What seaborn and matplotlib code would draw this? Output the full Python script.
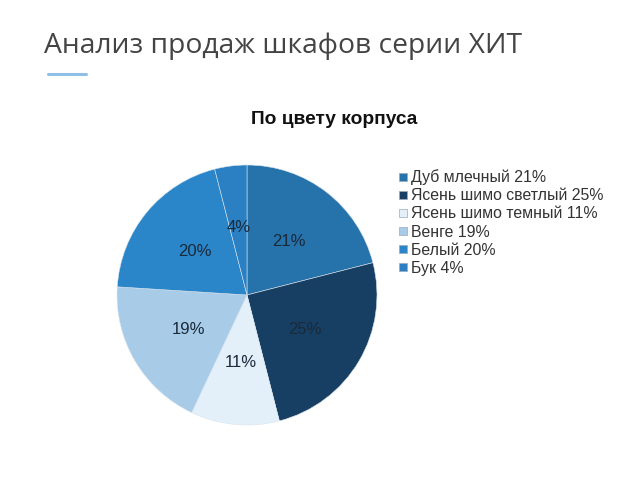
import matplotlib
matplotlib.use("Agg")
import matplotlib.pyplot as plt
from matplotlib.lines import Line2D
import seaborn as sns

categories = ["Дуб млечный", "Ясень шимо светлый", "Ясень шимо темный", "Венге", "Белый", "Бук"]
values = [21, 25, 11, 19, 20, 4]
colors = ["#2672aa", "#163f63", "#e4f0f9", "#a8cbe8", "#2b86c9", "#2a80c2"]
title = "Анализ продаж шкафов серии ХИТ"
chart_title = "По цвету корпуса"

sns.set_theme(style="white")
plt.rcParams["font.family"] = ["Liberation Sans", "DejaVu Sans"]

fig = plt.figure(figsize=(6.4, 4.8), dpi=100)
fig.patch.set_facecolor("white")

fig.text(44/640, 1 - 46/480, title, fontsize=20.3, color="#444444",
         family=["Open Sans", "DejaVu Sans"], va="center", ha="left")
fig.add_artist(Line2D([48/640, 86/640], [1 - 74/480, 1 - 74/480],
                      color="#8fbfe6", lw=2.2, transform=fig.transFigure))
fig.text(334/640, 1 - 120/480, chart_title, fontsize=13.8, fontweight="bold",
         color="#111111", ha="center", va="center")

ax = fig.add_axes([117/640, 1 - 425/480, 260/640, 260/480])
wedges, texts, autotexts = ax.pie(
    values, colors=colors, startangle=90, counterclock=False,
    autopct=lambda p: f"{p:.0f}%", pctdistance=0.52,
    wedgeprops=dict(edgecolor="#d9e4ee", linewidth=0.4))
for t in autotexts:
    t.set_fontsize(12)
    t.set_color("#1a2a3a")
ax.set_xlim(-1.0, 1.0)
ax.set_ylim(-1.0, 1.0)
ax.set_aspect("equal")
ax.axis("off")

handles = [Line2D([0], [0], marker="s", linestyle="", markersize=6,
                  markerfacecolor=c, markeredgecolor="#9aaabb", markeredgewidth=0.5)
           for c in colors]
labels = [f"{c} {v}%" for c, v in zip(categories, values)]
leg = fig.legend(handles, labels, loc="upper left", bbox_to_anchor=(392/640, 1 - 163/480),
                 frameon=False, fontsize=11.4, handlelength=0.6, handletextpad=0.2,
                 labelspacing=0.2, borderaxespad=0)
for t in leg.get_texts():
    t.set_color("#333333")

fig.savefig("out.png", dpi=100)
